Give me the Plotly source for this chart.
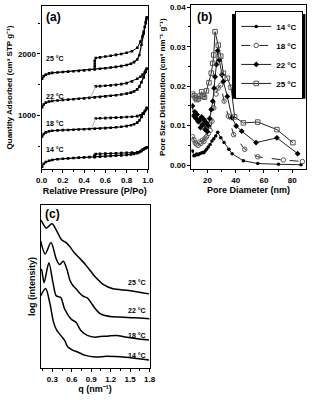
import plotly.graph_objects as go

# ---------------- Panel (a): N2 isotherms ----------------
P_ads = [0.005, 0.02, 0.04, 0.07, 0.10, 0.15, 0.20, 0.25, 0.30, 0.35, 0.40, 0.45, 0.50, 0.55,
         0.60, 0.65, 0.70, 0.75, 0.80, 0.84, 0.87, 0.90, 0.92, 0.94, 0.96, 0.98, 0.99]
V_ads_14 = [170, 215, 245, 265, 278, 290, 298, 304, 310, 315, 320, 324, 328, 332,
            336, 341, 346, 352, 360, 368, 376, 388, 402, 425, 448, 470, 480]
V_ads_18 = [660, 700, 725, 745, 752, 758, 762, 765, 768, 772, 776, 780, 784, 789,
            795, 801, 808, 817, 828, 842, 858, 885, 920, 975, 1030, 1090, 1120]
V_ads_22 = [1135, 1180, 1210, 1228, 1236, 1244, 1251, 1258, 1265, 1272, 1279, 1287, 1295, 1303,
            1311, 1320, 1330, 1341, 1355, 1372, 1392, 1425, 1470, 1540, 1620, 1710, 1760]
V_ads_25 = [1600, 1640, 1665, 1685, 1693, 1700, 1707, 1713, 1719, 1726, 1733, 1741, 1750, 1759,
            1769, 1779, 1790, 1803, 1820, 1842, 1868, 1910, 1984, 2150, 2330, 2500, 2590]

P_des_14 = [0.99, 0.97, 0.95, 0.93, 0.90, 0.85, 0.80, 0.75, 0.70, 0.65, 0.60, 0.55, 0.51, 0.50, 0.50, 0.50]
V_des_14 = [480, 465, 445, 420, 402, 396, 392, 388, 385, 382, 380, 377, 374, 358, 343, 328]
P_des_18 = [0.99, 0.97, 0.95, 0.93, 0.90, 0.85, 0.80, 0.75, 0.70, 0.65, 0.60, 0.55, 0.51]
V_des_18 = [1120, 1070, 1030, 1005, 990, 980, 975, 970, 966, 962, 958, 955, 952]
P_des_22 = [0.99, 0.98, 0.97, 0.95, 0.93, 0.90, 0.85, 0.80, 0.75, 0.70, 0.65, 0.60, 0.55, 0.51]
V_des_22 = [1760, 1730, 1700, 1665, 1630, 1597, 1555, 1526, 1510, 1498, 1490, 1484, 1478, 1473]
P_des_25 = [0.99, 0.985, 0.98, 0.97, 0.96, 0.95, 0.93, 0.90, 0.85, 0.80, 0.75, 0.70, 0.65, 0.60,
            0.55, 0.51, 0.50, 0.50, 0.50, 0.50]
V_des_25 = [2590, 2560, 2520, 2440, 2360, 2290, 2200, 2100, 2045, 2020, 2000, 1985, 1970, 1958,
            1945, 1935, 1890, 1845, 1800, 1760]
# closure segments (grey connectors)
P_jump_18 = [0.51, 0.47]
V_jump_18 = [952, 790]
P_jump_22 = [0.51, 0.46]
V_jump_22 = [1473, 1290]

iso_labels = ["14 °C", "18 °C", "22 °C", "25 °C"]
iso_label_V = [440, 874, 1311, 1924]

# ---------------- Panel (b): pore size distribution ----------------
d_14 = [9.3, 10.3, 11.3, 12.3, 13.3, 14.3, 15.3, 16.3, 17.3, 18.3, 19.3, 20.5, 21.8, 23.1, 24.4,
        25.8, 27.2, 29.4, 31.7, 35.1, 37.4, 45.4, 55.6, 70.3, 86.3]
psd_14 = [0.0036, 0.0024, 0.0025, 0.0028, 0.0026, 0.0029, 0.0030, 0.0032, 0.0031, 0.0036, 0.0040,
          0.0046, 0.0052, 0.0061, 0.0067, 0.0074, 0.0083, 0.0069, 0.0057, 0.0040, 0.0029, 0.0011,
          0.0004, 0.0002, 0.0001]
d_18 = [9.3, 10.3, 11.3, 12.3, 13.3, 14.3, 15.3, 16.3, 17.3, 18.3, 19.3, 20.5, 21.8, 23.1, 24.4,
        26.0, 27.5, 29.4, 31.7, 34.7, 38.5, 46.4, 55.6, 73.7, 87.3]
psd_18 = [0.0072, 0.0064, 0.0056, 0.0053, 0.0050, 0.0058, 0.0055, 0.0063, 0.0060, 0.0068, 0.0072,
          0.0080, 0.0088, 0.0111, 0.0145, 0.0180, 0.0195, 0.0203, 0.0162, 0.0124, 0.0077, 0.0040,
          0.0021, 0.0013, 0.0009]
d_22 = [9.3, 10.2, 11.0, 11.8, 12.6, 13.4, 14.2, 15.0, 15.8, 16.6, 17.4, 18.2, 19.0, 19.8, 20.6,
        21.5, 22.6, 23.7, 24.6, 25.3, 26.3, 27.2, 28.3, 30.1, 31.2, 34.0, 37.4, 40.3, 44.2, 54.4,
        69.2, 83.9]
psd_22 = [0.0150, 0.0125, 0.0135, 0.0118, 0.0128, 0.0110, 0.0115, 0.0095, 0.0122, 0.0102, 0.0116,
          0.0090, 0.0108, 0.0085, 0.0100, 0.0118, 0.0141, 0.0162, 0.0195, 0.0224, 0.0255, 0.0290,
          0.0266, 0.0229, 0.0212, 0.0174, 0.0120, 0.0099, 0.0086, 0.0057, 0.0069, 0.0029]
d_25 = [9.3, 10.4, 11.4, 12.4, 13.5, 14.6, 15.8, 16.8, 17.8, 19.2, 21.0, 22.6, 23.7, 24.4, 25.3,
        27.6, 29.4, 31.2, 34.0, 36.7, 39.2, 45.4, 55.6, 69.2, 80.5]
psd_25 = [0.0180, 0.0176, 0.0170, 0.0166, 0.0168, 0.0175, 0.0186, 0.0175, 0.0172, 0.0188, 0.0209,
          0.0233, 0.0258, 0.0279, 0.0338, 0.0304, 0.0276, 0.0233, 0.0220, 0.0197, 0.0122, 0.0107,
          0.0109, 0.0090, 0.0057]

# ---------------- Panel (c): SAXS ----------------
q_25 = [0.12, 0.137, 0.207, 0.296, 0.37, 0.443, 0.517, 0.566, 0.64, 0.714, 0.81, 0.91, 0.96, 1.09,
        1.236, 1.48, 1.79]
I_25 = [9.1, 9.0, 8.6, 8.86, 8.4, 7.88, 7.68, 7.48, 7.07, 6.77, 6.36, 5.85, 5.6, 5.12, 4.86, 4.76, 4.55]
q_22 = [0.12, 0.19, 0.28, 0.36, 0.41, 0.47, 0.53, 0.57, 0.62, 0.67, 0.72, 0.77, 0.84, 0.90, 0.96,
        1.03, 1.11, 1.22, 1.33, 1.46, 1.58, 1.70, 1.80]
I_22 = [7.8, 7.0, 7.7, 6.7, 6.35, 6.55, 6.0, 5.4, 5.05, 4.85, 4.6, 4.42, 4.3, 4.0, 3.65, 3.35, 3.22,
        3.15, 3.13, 3.1, 3.08, 3.05, 3.02]
q_18 = [0.12, 0.133, 0.173, 0.247, 0.31, 0.36, 0.43, 0.49, 0.59, 0.665, 0.74, 0.84, 0.96, 1.04, 1.15,
        1.29, 1.42, 1.58, 1.79]
I_18 = [6.0, 6.05, 5.24, 6.46, 5.24, 4.43, 4.33, 3.62, 3.0, 2.8, 2.3, 2.0, 1.89, 1.93, 1.95, 2.0,
        1.9, 1.81, 1.71]
q_14 = [0.12, 0.197, 0.26, 0.32, 0.37, 0.43, 0.49, 0.54, 0.62, 0.69, 0.81, 0.96, 1.14, 1.43, 1.79]
I_14 = [4.43, 4.88, 4.02, 2.8, 2.3, 2.0, 1.69, 1.28, 1.08, 0.98, 0.77, 0.67, 0.71, 0.65, 0.49]
saxs_label_I = [0.75, 2.0, 3.5, 5.24]

W, H = 315, 400
FONT = "Liberation Sans, Arial, sans-serif"

fig = go.Figure()

# ---- (a) traces ----
ads = [V_ads_14, V_ads_18, V_ads_22, V_ads_25]
des = [(P_des_14, V_des_14), (P_des_18, V_des_18), (P_des_22, V_des_22), (P_des_25, V_des_25)]
mk_a = dict(symbol="square", size=2.6, color="black")
for V in ads:
    fig.add_trace(go.Scatter(x=P_ads, y=V, mode="lines+markers", line=dict(color="black", width=1.2),
                             marker=mk_a, showlegend=False, xaxis="x", yaxis="y"))
for Pd, Vd in des:
    fig.add_trace(go.Scatter(x=Pd, y=Vd, mode="lines+markers", line=dict(color="black", width=1.0),
                             marker=mk_a, showlegend=False, xaxis="x", yaxis="y"))
for Pj, Vj in [(P_jump_18, V_jump_18), (P_jump_22, V_jump_22)]:
    fig.add_trace(go.Scatter(x=Pj, y=Vj, mode="lines", line=dict(color="#9a9a9a", width=0.8),
                             showlegend=False, xaxis="x", yaxis="y"))

# ---- (b) traces ----
psd_sets = [
    (d_14, psd_14, "14 °C", "solid", dict(symbol="circle", size=3.5, color="black")),
    (d_18, psd_18, "18 °C", "dash", dict(symbol="circle-open", size=4.5, color="#555555", line=dict(width=1))),
    (d_22, psd_22, "22 °C", "solid", dict(symbol="diamond", size=4.5, color="black")),
    (d_25, psd_25, "25 °C", "solid", dict(symbol="square-open", size=4.5, color="#555555", line=dict(width=1))),
]
for dx, vy, name, dash, mk in psd_sets:
    fig.add_trace(go.Scatter(x=dx, y=vy, name=name, mode="lines+markers",
                             line=dict(color="#222222", width=1, dash=dash), marker=mk,
                             xaxis="x2", yaxis="y2"))

# ---- (c) traces ----
for qx, iy in [(q_14, I_14), (q_18, I_18), (q_22, I_22), (q_25, I_25)]:
    fig.add_trace(go.Scatter(x=qx, y=iy, mode="lines", line=dict(color="black", width=1.5, shape="spline",
                             smoothing=0.8), showlegend=False, xaxis="x3", yaxis="y3"))

def dom_x(a, b):
    return [a / W, b / W]

def dom_y(top, bot):
    return [1 - bot / H, 1 - top / H]

axis_common = dict(showline=True, linecolor="black", linewidth=1.2, mirror=True, ticks="outside",
                   ticklen=3, tickwidth=1, tickcolor="black", showgrid=False, zeroline=False,
                   tickfont=dict(size=8, family=FONT, color="black", weight="bold"))
title_font = dict(size=9, family=FONT, color="black", weight="bold")

fig.update_layout(
    width=W, height=H, margin=dict(l=0, r=0, t=0, b=0),
    paper_bgcolor="white", plot_bgcolor="white",
    font=dict(family=FONT, color="black", weight="bold"),
    xaxis=dict(domain=dom_x(37, 147.5), range=[0, 1.0], dtick=0.2, tickformat=".1f",
               minor=dict(dtick=0.1, ticks="outside", ticklen=2, tickcolor="black"),
               title=dict(text="Relative Pressure (P/Po)", font=title_font, standoff=3),
               anchor="y", **axis_common),
    yaxis=dict(domain=dom_y(4, 168.3), range=[130, 2780], tickvals=[1000, 2000],
               minor=dict(tickvals=[500, 1500, 2500], ticks="outside", ticklen=2, tickcolor="black"),
               title=dict(text="Quantity Adsorbed (cm³ STP g⁻¹)", font=dict(size=8, family=FONT, color="black", weight="bold"), standoff=4),
               anchor="x", **axis_common),
    xaxis2=dict(domain=dom_x(192.7, 311.7), range=[8.5, 89.7], tickvals=[20, 40, 60, 80],
                minor=dict(tickvals=[10, 30, 50, 70], ticks="outside", ticklen=2, tickcolor="black"),
                title=dict(text="Pore Diameter (nm)", font=title_font, standoff=2),
                anchor="y2", **axis_common),
    yaxis2=dict(domain=dom_y(3.3, 168.3), range=[-0.001, 0.0405], dtick=0.01, tickformat=".2f",
                minor=dict(dtick=0.005, ticks="outside", ticklen=2, tickcolor="black"),
                title=dict(text="Pore Size Distribution (cm³ nm⁻¹ g⁻¹)",
                           font=dict(size=8, family=FONT, color="black", weight="bold"), standoff=3),
                anchor="x2", **axis_common),
    xaxis3=dict(domain=dom_x(36, 149.3), range=[0.12, 1.8], dtick=0.3, tick0=0.3, tickformat=".1f",
                minor=dict(dtick=0.15, ticks="outside", ticklen=2, tickcolor="black"),
                title=dict(text="q (nm⁻¹)", font=title_font, standoff=1),
                anchor="y3", **axis_common),
    yaxis3=dict(domain=dom_y(204.7, 368.7), range=[0, 10], showticklabels=False,
                title=dict(text="log (intensity)", font=title_font, standoff=2),
                anchor="x3", showline=True, linecolor="black", linewidth=1.2, mirror=True,
                ticks="", showgrid=False, zeroline=False),
    legend=dict(x=309 / W, y=1 - 9 / H, xanchor="right", yanchor="top",
                bgcolor="white", bordercolor="black", borderwidth=1,
                font=dict(size=8, family=FONT, color="black", weight="bold"),
                itemwidth=30, tracegroupgap=0),
)

# legend drop shadow
fig.add_shape(type="rect", xref="paper", yref="paper", layer="above",
              x0=235 / W, x1=311.3 / W, y0=1 - 97.5 / H, y1=1 - 12 / H,
              fillcolor="black", line=dict(width=0))

ann = []
for lab, v in zip(iso_labels, iso_label_V):
    ann.append(dict(x=0.02, y=v, xref="x", yref="y", text=lab, showarrow=False, xanchor="left",
                    font=dict(size=7, family=FONT, color="black", weight="bold")))
for lab, v in zip(iso_labels, saxs_label_I):
    ann.append(dict(x=1.77, y=v, xref="x3", yref="y3", text=lab, showarrow=False, xanchor="right",
                    font=dict(size=7, family=FONT, color="black", weight="bold")))
for txt, px, py in [("(a)", 40, 15), ("(b)", 197, 15), ("(c)", 38, 214)]:
    ann.append(dict(x=px / W, y=1 - py / H, xref="paper", yref="paper", text=txt, showarrow=False,
                    xanchor="left", yanchor="middle",
                    font=dict(size=12, family=FONT, color="black", weight="bold")))
fig.update_layout(annotations=ann)

fig.write_html("out.html", config={"displayModeBar": False},
               post_script="document.body.style.margin='0';document.body.style.padding='0';")
